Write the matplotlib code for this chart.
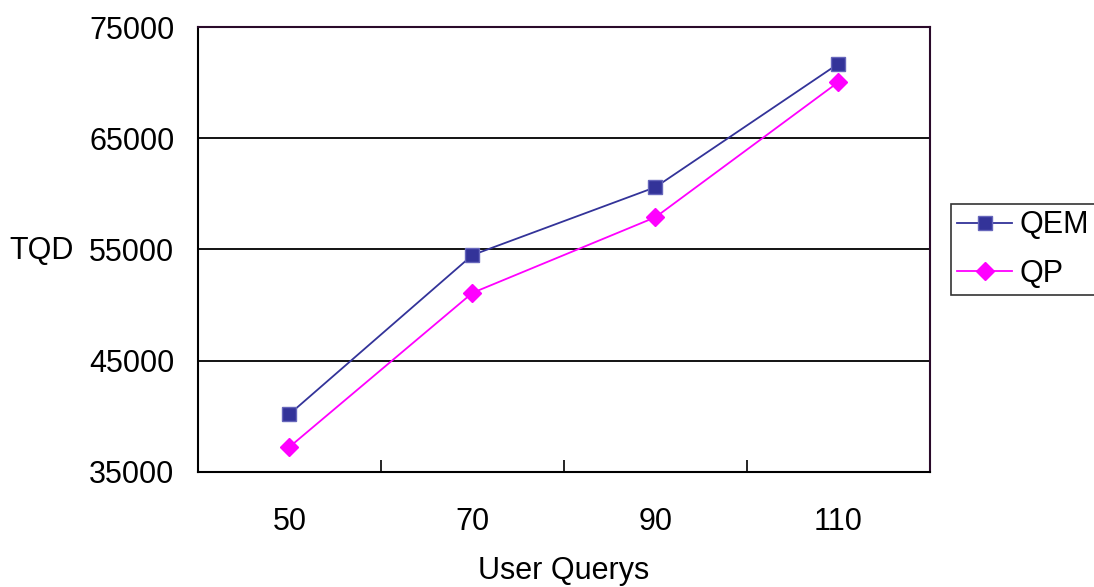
import matplotlib
matplotlib.use("Agg")
import matplotlib.pyplot as plt
import numpy as np

plt.rcParams['font.family'] = ['Liberation Sans', 'DejaVu Sans']

queries = ["50", "70", "90", "110"]
qem = [40200, 54500, 60600, 71700]
qp = [37250, 51100, 57900, 70050]

fig = plt.figure(figsize=(10.94, 5.87), dpi=100)
ax = fig.add_axes([0.181, 0.196, 0.669, 0.758])

x = np.arange(len(queries))
ax.plot(x, qem, color='#333399', marker='s', markersize=10, linewidth=1.3,
        markerfacecolor='#333399', markeredgecolor='#6666bb', markeredgewidth=1, label='QEM')
ax.plot(x, qp, color='#ff00ff', marker='D', markersize=9, linewidth=1.3,
        markerfacecolor='#ff00ff', markeredgecolor='#ff00ff', label='QP')

ax.set_xlim(-0.5, len(queries) - 0.5)
ax.set_ylim(35000, 75000)
ax.set_yticks([35000, 45000, 55000, 65000, 75000])
ax.yaxis.grid(True, color='black', linewidth=1.3)
ax.set_axisbelow(True)

fs = 22
ax.set_xticks(x)
ax.set_xticklabels(queries, fontsize=fs)
ax.set_xticks(x[:-1] + 0.5, minor=True)
ax.tick_params(axis='x', which='major', length=0, pad=25)
ax.tick_params(axis='x', which='minor', direction='in', length=9, width=1.2, color='black')
ax.tick_params(axis='y', length=0, labelsize=fs, pad=17)

for side in ['left', 'bottom']:
    ax.spines[side].set_color('black')
    ax.spines[side].set_linewidth(1.5)
for side in ['top', 'right']:
    ax.spines[side].set_color('#2a0a2a')
    ax.spines[side].set_linewidth(1.5)

ax.set_xlabel('User Querys', fontsize=fs, va='center')
ax.xaxis.set_label_coords(0.5, -0.222)
ax.set_ylabel('TQD', fontsize=fs, rotation=0, ha='center', va='center')
ax.yaxis.set_label_coords(-0.214, 0.497)

leg = ax.legend(loc='upper left', bbox_to_anchor=(1.029, 0.602), fontsize=fs,
                frameon=True, fancybox=False, edgecolor='black', borderaxespad=0,
                handlelength=1.8, handletextpad=0.25, borderpad=0.2, labelspacing=0.6)
leg.get_frame().set_linewidth(1.2)

fig.savefig('out.png', dpi=100)
